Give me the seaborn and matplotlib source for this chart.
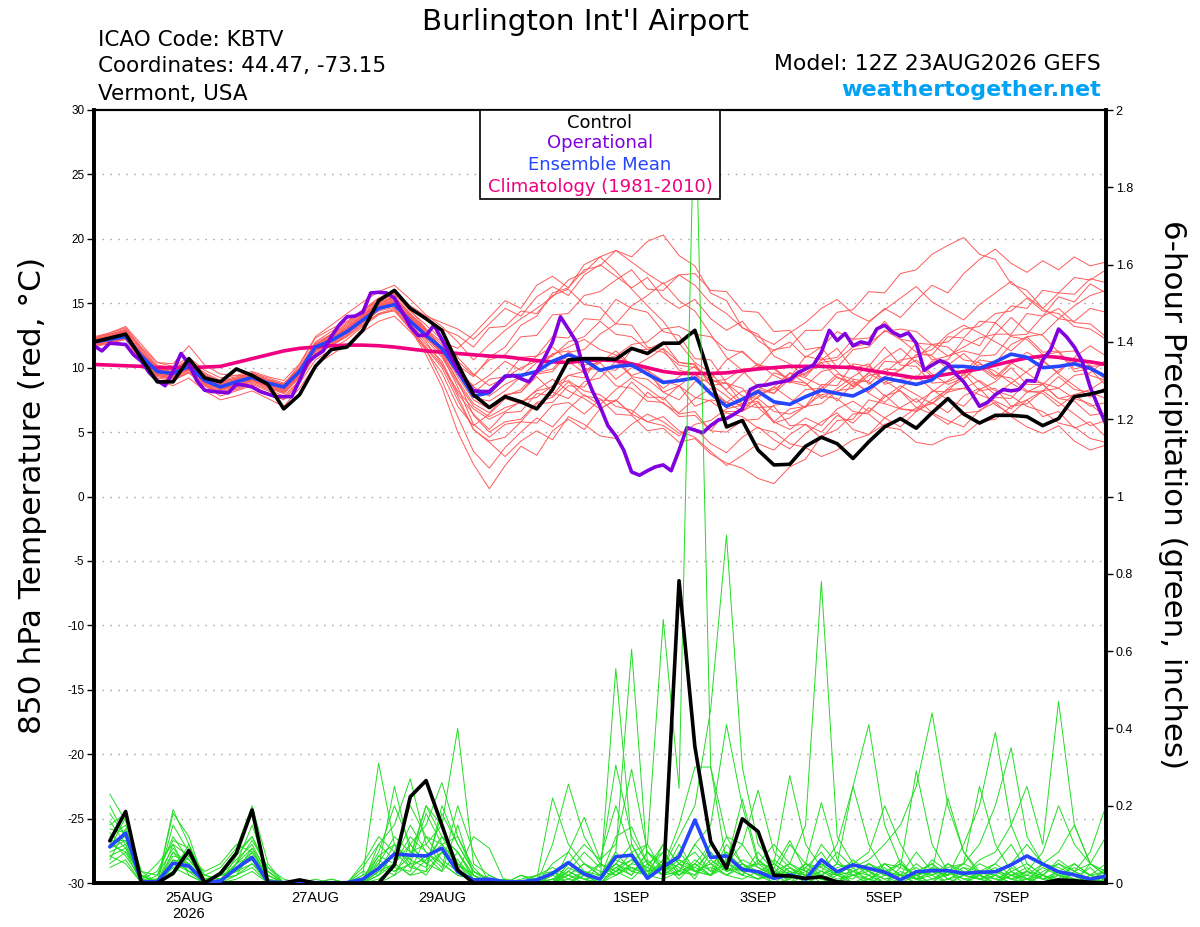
import numpy as np
import pandas as pd
import matplotlib
matplotlib.use("Agg")
import matplotlib.pyplot as plt
from matplotlib.patches import Rectangle
import seaborn as sns

# ---------------- data ----------------
run_start = "2026-08-23 12:00"
n_steps = 65           # 6-hourly, 0..384 h
n_steps_op = 129       # 3-hourly operational run

control_temp = [12.0, 12.3, 12.6, 10.7, 8.9, 8.9, 10.7, 9.2, 8.9, 9.9, 9.4, 8.7, 6.8, 7.9, 10.1, 11.4,
                11.6, 12.9, 15.2, 16.0, 14.6, 13.8, 12.9, 10.3, 7.9, 6.9, 7.75, 7.35, 6.8, 8.3, 10.6, 10.7,
                10.7, 10.65, 11.5, 11.1, 11.9, 11.9, 12.9, 9.1, 5.4, 5.9, 3.6, 2.45, 2.5, 3.9, 4.6, 4.1,
                2.95, 4.25, 5.4, 6.05, 5.3, 6.5, 7.6, 6.4, 5.7, 6.3, 6.3, 6.2, 5.5, 6.05, 7.75, 7.95, 8.25]

mean_temp = [12.0, 12.2, 12.4, 10.9, 9.7, 9.55, 10.1, 9.0, 8.5, 8.9, 9.25, 8.8, 8.5, 9.7, 11.6, 12.1,
             12.8, 13.7, 14.6, 14.9, 13.6, 12.5, 11.5, 9.7, 7.8, 8.05, 9.35, 9.4, 9.7, 10.5, 11.0, 10.6,
             9.8, 10.1, 10.2, 9.5, 8.85, 9.0, 9.2, 8.0, 7.0, 7.55, 8.15, 7.35, 7.15, 7.75, 8.25, 8.0,
             7.8, 8.4, 9.2, 8.95, 8.7, 9.05, 10.1, 10.1, 9.95, 10.45, 11.05, 10.8, 10.0, 10.1, 10.3, 9.95, 9.3]

clim_temp = [10.25, 10.2, 10.15, 10.1, 10.0, 10.0, 10.0, 10.05, 10.1, 10.4, 10.7, 11.0, 11.3, 11.5, 11.6, 11.7,
             11.75, 11.75, 11.7, 11.6, 11.45, 11.3, 11.2, 11.1, 11.0, 10.9, 10.85, 10.7, 10.55, 10.45, 10.4, 10.55,
             10.6, 10.55, 10.3, 10.0, 9.7, 9.55, 9.55, 9.55, 9.6, 9.75, 9.9, 10.0, 10.1, 10.1, 10.1, 10.05,
             10.0, 9.8, 9.6, 9.4, 9.2, 9.3, 9.5, 9.7, 9.9, 10.2, 10.5, 10.75, 10.9, 10.8, 10.6, 10.45, 10.25]

oper_temp = [11.7, 11.3, 11.9, 11.85, 11.8, 11.0, 10.5, 9.6, 9.0, 8.6, 9.7, 11.1, 10.3, 9.0, 8.25, 8.15,
             8.1, 8.05, 8.7, 8.65, 8.5, 8.15, 7.95, 7.75, 7.75, 7.75, 9.0, 10.4, 10.9, 11.3, 12.4, 13.3,
             13.95, 14.0, 14.3, 15.8, 15.85, 15.8, 15.4, 14.3, 13.2, 12.5, 12.5, 13.3, 12.2, 11.0, 9.8, 9.0,
             8.2, 8.15, 8.15, 8.7, 9.3, 9.4, 9.15, 8.9, 9.7, 10.8, 12.0, 13.95, 13.0, 12.0, 9.8, 8.25,
             7.0, 5.5, 4.7, 3.6, 1.9, 1.65, 2.0, 2.3, 2.45, 2.0, 3.6, 5.35, 5.15, 4.95, 5.5, 5.95,
             6.05, 6.4, 6.8, 8.3, 8.6, 8.65, 8.8, 8.9, 9.05, 9.6, 9.9, 10.2, 11.2, 12.9, 12.1, 12.65,
             11.7, 12.0, 11.85, 13.0, 13.3, 12.75, 12.45, 12.7, 11.9, 9.8, 10.2, 10.55, 10.3, 9.5, 8.9, 8.0,
             7.0, 7.3, 7.9, 8.3, 8.2, 8.3, 9.0, 8.95, 10.6, 11.4, 13.0, 12.4, 11.6, 10.5, 8.5, 7.0, 5.6]

# 6-hour precipitation (first value valid at +6 h)
control_precip = [0.109, 0.185, 0.0, 0.0, 0.025, 0.084, 0.0, 0.025, 0.077, 0.189, 0.0, 0.0, 0.008, 0.0, 0.0, 0.0,
                  0.0, 0.0, 0.047, 0.223, 0.265, 0.15, 0.034, 0.0, 0.0, 0.0, 0.0, 0.0, 0.0, 0.0, 0.0, 0.0,
                  0.0, 0.0, 0.0, 0.0, 0.782, 0.353, 0.107, 0.038, 0.166, 0.133, 0.02, 0.018, 0.012, 0.016, 0.003, 0.0,
                  0.0, 0.0, 0.0, 0.0, 0.0, 0.0, 0.0, 0.0, 0.0, 0.0, 0.0, 0.0, 0.008, 0.006, 0.002, 0.0]

mean_precip = [0.094, 0.129, 0.003, 0.003, 0.051, 0.044, 0.003, 0.005, 0.038, 0.066, 0.003, 0.001, 0.002, 0.001, 0.000, 0.001,
               0.010, 0.038, 0.075, 0.072, 0.070, 0.090, 0.029, 0.008, 0.010, 0.003, 0.003, 0.008, 0.025, 0.053, 0.023, 0.010,
               0.068, 0.072, 0.012, 0.042, 0.068, 0.163, 0.066, 0.070, 0.035, 0.029, 0.012, 0.021, 0.010, 0.060, 0.029, 0.047,
               0.038, 0.028, 0.008, 0.029, 0.032, 0.032, 0.025, 0.028, 0.029, 0.047, 0.070, 0.049, 0.029, 0.021, 0.010, 0.018]

ens_temp_members = [
    [12.2, 12.5, 12.9, 11.3, 10.0, 9.8, 10.5, 9.4, 8.8, 9.1, 9.5, 9.0, 8.7, 10.2, 12.3, 13.0, 13.6, 14.5, 15.2, 15.6, 14.8, 14.0, 13.5,
     13.0, 12.2, 13.4, 14.6, 14.0, 15.5, 16.3, 15.6, 17.2, 18.0, 17.1, 16.2, 17.0, 15.4, 14.6, 15.3, 13.8, 12.9, 13.6, 12.1, 11.3, 12.0, 10.8, 11.6, 12.8, 12.2, 13.5, 14.6, 13.9, 15.2, 16.4, 15.8, 17.3, 18.4, 19.2, 18.1, 17.4, 18.3, 17.6, 18.6, 17.9, 18.2],
    [11.8, 12.0, 12.3, 10.6, 9.2, 9.0, 9.6, 8.6, 8.0, 8.4, 8.8, 8.3, 7.8, 9.0, 11.0, 11.8, 12.5, 13.4, 14.2, 14.6, 13.0, 11.0, 8.5,
     5.0, 2.5, 0.6, 2.4, 3.9, 3.2, 5.1, 6.0, 5.2, 6.8, 7.5, 6.4, 8.1, 7.2, 6.5, 7.6, 8.4, 7.3, 6.6, 7.8, 8.5, 7.6, 6.9, 8.2, 9.3, 8.6, 9.6, 8.8, 9.9, 10.6, 9.5, 8.7, 9.2, 10.1, 9.3, 10.4, 9.6, 8.7, 9.8, 10.5, 9.4, 9.0],
    [12.1, 12.4, 12.8, 11.0, 9.9, 9.7, 10.3, 9.1, 8.6, 8.9, 9.3, 8.9, 8.4, 9.8, 11.8, 12.5, 13.1, 14.1, 15.0, 15.5, 14.2, 13.0, 12.0,
     11.5, 12.6, 13.9, 15.2, 14.6, 16.4, 17.1, 16.2, 18.0, 18.6, 17.5, 16.1, 14.8, 13.6, 11.9, 10.4, 9.6, 8.2, 7.1, 6.9, 5.8, 5.2, 6.1, 5.5, 6.8, 7.4, 6.6, 7.7, 8.6, 7.9, 7.2, 8.4, 9.1, 10.3, 9.7, 8.8, 8.1, 8.7, 7.6, 7.9, 7.0, 7.3],
    [11.6, 11.9, 12.2, 10.4, 9.0, 8.6, 9.2, 8.2, 7.5, 7.8, 8.2, 7.6, 7.0, 8.4, 10.2, 11.0, 11.8, 12.8, 13.6, 14.0, 12.8, 11.5, 10.0,
     7.5, 5.2, 4.2, 3.1, 4.3, 5.1, 4.4, 6.2, 5.6, 4.7, 4.5, 5.6, 6.4, 5.8, 4.9, 5.3, 4.1, 3.4, 4.6, 5.4, 4.4, 3.7, 4.9, 5.8, 6.5, 5.2, 4.8, 6.1, 6.9, 7.6, 6.5, 5.9, 5.4, 6.7, 7.3, 6.2, 5.4, 4.9, 5.5, 4.3, 3.6, 4.0],
    [12.3, 12.6, 13.0, 11.5, 10.2, 10.0, 10.6, 9.6, 9.0, 9.3, 9.6, 9.2, 8.8, 9.9, 11.6, 12.2, 13.0, 14.0, 15.0, 15.4, 14.0, 12.6, 11.0,
     9.0, 7.2, 6.5, 7.8, 8.3, 9.6, 9.9, 11.2, 11.4, 12.6, 13.4, 14.8, 15.6, 16.6, 15.2, 14.4, 12.6, 10.8, 9.8, 8.5, 8.0, 9.1, 9.6, 10.4, 9.2, 8.9, 8.1, 9.3, 9.8, 11.0, 11.4, 12.6, 13.3, 12.7, 12.0, 11.3, 12.4, 12.6, 13.8, 13.6, 14.6, 14.3],
    [12.0, 12.3, 12.6, 11.2, 10.0, 9.8, 10.4, 9.3, 8.7, 9.0, 9.4, 9.0, 8.6, 9.8, 11.8, 12.6, 13.4, 14.4, 15.4, 15.8, 14.5, 13.0, 11.5,
     10.2, 9.3, 10.8, 11.6, 13.3, 14.0, 15.8, 16.2, 17.6, 17.9, 19.1, 18.6, 19.8, 20.3, 18.7, 17.9, 15.8, 15.2, 13.1, 12.6, 10.9, 10.3, 9.3, 10.6, 10.8, 12.2, 12.3, 13.6, 12.2, 12.0, 10.6, 10.9, 11.6, 12.3, 12.6, 13.9, 12.8, 12.5, 11.2, 11.3, 10.1, 10.2],
    [11.9, 12.1, 12.5, 10.8, 9.5, 9.3, 9.9, 8.8, 8.3, 8.6, 9.0, 8.5, 8.0, 9.3, 11.2, 11.9, 12.7, 13.6, 14.5, 14.9, 13.8, 12.5, 11.2,
     9.0, 6.3, 5.0, 5.8, 6.0, 7.3, 7.7, 8.9, 7.8, 7.6, 6.4, 6.3, 5.1, 5.3, 4.2, 4.5, 3.3, 2.6, 2.2, 1.4, 1.0, 2.3, 2.9, 4.7, 5.2, 6.4, 6.5, 7.9, 6.8, 6.6, 7.5, 8.3, 8.4, 7.9, 7.4, 6.8, 8.1, 8.2, 9.3, 8.3, 8.1, 7.6],
    [12.2, 12.4, 12.7, 11.1, 9.8, 9.6, 10.2, 9.2, 8.7, 9.0, 9.4, 8.9, 8.6, 9.9, 11.7, 12.3, 13.1, 14.0, 14.9, 15.3, 14.1, 12.8, 11.6,
     9.8, 7.7, 7.4, 8.2, 9.3, 9.7, 11.1, 11.3, 10.2, 10.4, 9.1, 10.0, 10.7, 11.5, 10.4, 10.2, 8.9, 9.1, 9.9, 10.0, 11.4, 11.6, 12.9, 12.9, 14.3, 14.5, 15.9, 15.8, 17.3, 17.6, 18.8, 19.5, 20.1, 18.8, 18.4, 16.5, 16.0, 14.6, 15.8, 15.7, 16.9, 16.6],
    [11.7, 12.0, 12.4, 10.7, 9.4, 9.2, 9.8, 8.8, 8.2, 8.6, 9.0, 8.6, 8.1, 9.4, 11.3, 12.0, 12.8, 13.8, 14.7, 15.0, 13.5, 12.0, 10.3,
     7.8, 5.2, 4.3, 4.6, 5.8, 5.7, 7.1, 7.3, 6.4, 7.5, 7.4, 8.9, 7.7, 7.7, 6.4, 6.6, 5.1, 6.6, 6.6, 7.3, 5.7, 6.1, 7.0, 7.9, 8.1, 9.0, 8.0, 7.3, 8.4, 9.4, 8.3, 7.5, 7.0, 8.3, 8.9, 10.0, 8.7, 8.7, 7.6, 7.4, 6.3, 6.5],
    [12.4, 12.7, 13.1, 11.6, 10.4, 10.3, 11.7, 10.2, 9.5, 9.4, 9.3, 9.0, 8.7, 10.0, 12.0, 12.8, 13.5, 14.5, 15.4, 16.0, 14.6, 13.8, 13.0,
     12.5, 11.6, 13.1, 13.2, 14.4, 14.2, 15.6, 16.1, 14.9, 14.7, 13.4, 13.3, 11.6, 11.4, 9.8, 9.5, 8.1, 7.3, 7.1, 8.3, 8.0, 9.6, 9.2, 8.6, 7.4, 8.8, 9.0, 10.5, 10.4, 11.9, 11.8, 10.9, 11.3, 11.0, 12.6, 12.6, 14.2, 14.0, 15.5, 15.1, 16.5, 15.8],
    [11.9, 12.2, 12.5, 10.9, 9.6, 9.4, 10.0, 9.0, 8.4, 8.8, 9.1, 8.7, 8.3, 9.5, 11.5, 12.2, 12.9, 13.9, 14.8, 15.2, 13.8, 12.4, 11.0,
     8.5, 5.6, 4.6, 5.6, 5.8, 7.2, 7.3, 8.6, 8.5, 9.9, 9.8, 11.4, 11.4, 12.0, 10.4, 10.3, 8.6, 8.8, 7.2, 7.4, 5.8, 6.8, 7.0, 8.7, 8.6, 10.3, 10.1, 11.6, 10.2, 10.1, 8.8, 8.9, 9.4, 10.6, 10.4, 11.8, 12.4, 11.2, 11.3, 9.9, 10.2, 9.0],
    [12.1, 12.3, 12.6, 11.0, 9.7, 9.5, 10.1, 9.1, 8.6, 9.0, 9.3, 8.8, 8.5, 9.7, 11.6, 12.2, 12.9, 13.8, 14.8, 15.1, 13.6, 12.3, 11.2,
     9.5, 8.0, 9.1, 9.3, 10.8, 10.9, 12.4, 12.3, 13.8, 13.7, 15.3, 14.6, 14.3, 12.8, 12.5, 10.7, 10.6, 8.8, 8.4, 6.9, 7.0, 5.5, 5.6, 4.5, 5.9, 6.0, 7.5, 7.2, 6.8, 6.7, 8.2, 8.1, 9.6, 8.2, 8.4, 7.0, 7.5, 6.2, 6.6, 5.3, 5.8, 4.6],
    [11.8, 12.0, 12.3, 10.5, 9.3, 9.1, 9.7, 8.7, 8.1, 8.5, 8.9, 8.4, 8.0, 9.2, 11.0, 11.7, 12.5, 13.5, 14.4, 14.7, 13.2, 11.8, 10.5,
     8.0, 6.4, 5.2, 6.5, 6.6, 8.0, 7.8, 9.4, 9.2, 10.8, 10.6, 9.4, 9.8, 8.1, 8.6, 7.0, 7.5, 7.3, 8.2, 8.2, 9.6, 9.2, 10.9, 10.6, 11.5, 9.9, 10.3, 8.7, 9.1, 9.2, 10.5, 10.6, 12.2, 11.7, 13.5, 12.4, 12.2, 11.0, 11.2, 9.7, 9.9, 8.6],
    [12.0, 12.2, 12.6, 11.2, 10.0, 9.9, 10.5, 9.5, 8.9, 9.2, 9.6, 9.1, 8.7, 10.0, 11.9, 12.6, 13.3, 14.3, 15.2, 15.7, 14.4, 13.3, 12.2,
     10.8, 9.5, 8.6, 9.2, 10.0, 10.5, 11.0, 11.6, 12.2, 11.4, 11.0, 10.2, 9.8, 9.0, 8.6, 7.7, 7.4, 6.5, 6.2, 5.3, 5.0, 4.1, 3.8, 3.1, 3.6, 4.4, 4.8, 5.6, 6.0, 6.9, 7.2, 8.1, 8.4, 9.0, 8.2, 7.8, 7.0, 6.6, 5.7, 5.4, 4.5, 4.2],
    [12.2, 12.5, 12.8, 11.0, 9.6, 9.5, 10.2, 9.2, 8.6, 9.0, 9.2, 8.8, 8.4, 9.6, 11.4, 12.0, 12.8, 13.8, 14.6, 15.0, 13.8, 12.6, 11.6,
     10.5, 9.4, 10.6, 11.0, 12.4, 12.5, 14.1, 14.2, 15.6, 15.9, 16.8, 17.6, 16.1, 16.0, 17.2, 17.3, 16.0, 15.9, 14.4, 14.3, 12.8, 12.9, 11.4, 11.6, 10.0, 10.2, 8.7, 9.9, 9.8, 11.0, 11.0, 12.4, 12.3, 13.6, 13.5, 14.8, 14.6, 16.0, 15.8, 17.0, 16.8, 17.6],
    [11.7, 11.9, 12.2, 10.6, 9.4, 9.1, 9.6, 8.6, 7.8, 8.2, 8.6, 8.0, 7.5, 8.8, 10.6, 11.4, 12.2, 13.2, 14.1, 14.5, 13.0, 11.6, 10.2,
     8.2, 6.8, 6.0, 6.6, 7.4, 7.7, 8.6, 9.0, 8.2, 7.9, 7.0, 6.7, 5.8, 5.5, 4.7, 5.6, 5.9, 6.8, 7.1, 8.0, 8.3, 9.2, 9.5, 10.4, 10.6, 11.6, 11.9, 12.8, 13.0, 12.8, 11.8, 11.6, 10.6, 10.4, 9.4, 9.2, 8.2, 8.0, 7.0, 7.9, 8.3, 9.1],
    [12.3, 12.6, 12.9, 11.4, 10.1, 9.9, 10.5, 9.4, 8.9, 9.2, 9.5, 9.0, 8.7, 9.9, 11.8, 12.5, 13.2, 14.2, 15.1, 15.5, 14.2, 12.9, 11.8,
     10.0, 8.5, 7.8, 8.7, 9.3, 10.4, 10.9, 12.0, 12.4, 13.6, 12.6, 12.4, 11.4, 11.2, 10.2, 10.0, 9.0, 8.8, 7.8, 7.6, 6.6, 6.4, 7.0, 7.2, 8.2, 8.4, 9.4, 9.6, 10.6, 10.8, 11.8, 12.0, 13.0, 13.2, 14.2, 14.4, 15.4, 14.4, 14.2, 13.2, 13.0, 12.2],
    [11.9, 12.1, 12.4, 10.7, 9.5, 9.3, 9.9, 8.9, 8.3, 8.7, 9.1, 8.6, 8.2, 9.4, 11.3, 12.0, 12.8, 13.8, 14.7, 15.1, 13.7, 12.2, 10.8,
     8.8, 7.0, 6.2, 6.9, 7.3, 8.2, 8.5, 9.4, 9.7, 10.6, 10.9, 11.8, 12.0, 13.0, 13.2, 12.6, 12.4, 11.4, 11.2, 10.2, 10.0, 9.0, 8.8, 7.8, 7.6, 6.6, 6.4, 5.4, 5.2, 4.2, 4.0, 4.6, 4.8, 5.8, 6.0, 7.0, 7.2, 8.2, 8.4, 9.4, 9.6, 10.6],
    [12.0, 12.4, 12.8, 11.1, 9.9, 9.6, 10.3, 9.2, 8.5, 8.8, 9.2, 8.7, 8.3, 9.6, 11.5, 12.3, 13.0, 14.0, 14.9, 15.2, 13.9, 12.7, 11.4,
     9.3, 7.5, 6.8, 7.9, 8.1, 9.3, 8.1, 7.6, 8.9, 9.2, 10.5, 9.3, 9.1, 8.1, 7.5, 8.9, 9.1, 10.6, 11.3, 10.1, 9.9, 8.9, 8.6, 9.7, 10.0, 11.4, 11.6, 12.9, 12.2, 11.2, 10.9, 9.9, 9.6, 10.9, 11.0, 12.5, 12.6, 14.0, 14.6, 13.5, 13.4, 12.4],
    [12.1, 12.3, 12.7, 11.0, 9.8, 9.7, 10.3, 9.3, 8.8, 9.1, 9.4, 8.9, 8.5, 9.8, 11.7, 12.4, 13.0, 14.1, 15.0, 15.4, 14.0, 12.8, 11.5,
     9.6, 7.8, 7.0, 7.9, 8.1, 9.5, 9.7, 11.1, 9.9, 9.9, 8.6, 8.4, 7.4, 7.3, 6.2, 6.3, 5.1, 5.0, 5.9, 6.0, 7.1, 7.2, 8.3, 8.4, 9.5, 9.1, 8.9, 7.8, 8.2, 6.9, 6.4, 5.6, 6.5, 6.6, 7.7, 7.6, 9.0, 8.8, 8.4, 7.6, 7.2, 6.1],
    [12.3, 12.7, 13.2, 11.8, 10.4, 10.1, 10.8, 9.8, 9.2, 9.4, 9.7, 9.3, 9.0, 10.3, 12.4, 13.3, 14.2, 15.1, 15.9, 16.4, 15.3, 14.1, 13.2,
     12.0, 10.6, 11.8, 12.9, 13.8, 14.6, 15.5, 16.8, 17.4, 18.6, 19.1, 18.2, 17.3, 16.5, 17.2, 16.4, 15.0, 14.2, 13.1, 12.4, 11.8, 12.7, 13.5, 14.6, 15.3, 14.2, 13.6, 14.5, 15.4, 16.3, 15.1, 14.4, 13.7, 14.9, 15.8, 16.7, 15.5, 14.6, 13.8, 14.8, 15.6, 16.0],
    [11.8, 12.1, 12.5, 10.8, 9.5, 9.2, 9.9, 8.7, 8.0, 8.3, 8.7, 8.2, 7.6, 9.0, 11.0, 11.7, 12.4, 13.3, 14.2, 14.4, 13.0, 11.3, 9.6,
     7.0, 5.5, 6.4, 7.6, 7.2, 8.3, 9.1, 8.2, 7.6, 6.8, 7.5, 6.4, 5.8, 6.2, 5.1, 4.6, 3.5, 2.4, 3.2, 4.1, 3.6, 4.8, 5.6, 5.0, 6.3, 5.7, 6.9, 6.1, 5.4, 6.6, 7.3, 6.5, 7.8, 8.4, 7.1, 6.4, 7.5, 8.2, 7.3, 6.4, 5.5, 5.9],
    [12.0, 12.2, 12.5, 10.8, 9.6, 9.4, 10.0, 8.9, 8.4, 8.7, 9.1, 8.6, 8.2, 9.5, 11.4, 12.1, 12.9, 13.9, 14.8, 15.2, 13.9, 12.5, 11.3,
     9.7, 8.6, 9.4, 10.5, 9.8, 10.9, 11.6, 10.5, 9.6, 10.4, 11.3, 10.2, 9.5, 8.4, 9.3, 10.1, 9.2, 8.3, 9.5, 10.3, 9.4, 8.8, 9.9, 10.8, 9.7, 8.5, 9.6, 10.7, 11.5, 10.4, 9.3, 10.2, 11.1, 10.0, 9.1, 10.3, 11.2, 10.5, 9.6, 10.8, 11.7, 10.9],
    [11.9, 12.2, 12.6, 11.0, 9.7, 9.4, 10.0, 9.0, 8.3, 8.6, 9.0, 8.5, 8.1, 9.3, 11.1, 11.8, 12.6, 13.6, 14.6, 15.0, 13.3, 11.4, 9.0,
     6.2, 3.5, 2.2, 3.8, 5.0, 6.1, 5.4, 6.8, 7.9, 7.1, 8.3, 9.2, 8.4, 7.5, 8.6, 9.5, 8.7, 7.8, 6.9, 7.7, 8.5, 9.6, 8.8, 7.6, 8.4, 9.3, 10.1, 9.0, 8.2, 7.3, 8.1, 9.0, 9.8, 8.9, 7.9, 8.8, 9.7, 10.6, 9.5, 8.6, 7.7, 8.5],
]

ens_precip_members = [
    [.12, .15, .01, .00, .08, .05, .00, .02, .06, .10, .02, .00, .00, .00, .00, .00, .02, .31, .10, .05, .02, .08, .03, .00, .00, .00, .00, .00, .02, .05, .02, .00, .555, .10, .02, .05, .01, .05, .02, .10, .05, .02, .00, .03, .00, .05, .02, .00, .01, .00, .02, .00, .00, .03, .01, .00, .02, .05, .01, .00, .02, .00, .01, .03],
    [.08, .10, .00, .02, .12, .06, .01, .00, .04, .08, .01, .00, .00, .01, .00, .00, .00, .05, .12, .08, .10, .15, .40, .05, .02, .00, .00, .01, .00, .03, .01, .02, .08, .605, .05, .02, .10, .03, .05, .02, .01, .03, .00, .01, .05, .02, .00, .04, .00, .02, .05, .01, .00, .00, .02, .01, .00, .03, .05, .02, .00, .01, .04, .00],
    [.15, .18, .02, .00, .05, .04, .00, .01, .03, .07, .00, .00, .00, .00, .00, .00, .04, .10, .06, .15, .08, .05, .02, .01, .00, .00, .02, .00, .00, .02, .05, .03, .02, .05, .10, .682, .245, 2.10, .30, .05, .03, .01, .02, .00, .04, .01, .00, .02, .03, .00, .01, .05, .02, .00, .00, .02, .01, .00, .00, .03, .05, .02, .00, .01],
    [.05, .08, .00, .01, .03, .10, .00, .03, .08, .12, .04, .00, .00, .00, .01, .00, .00, .02, .08, .20, .12, .10, .05, .02, .00, .01, .00, .00, .05, .08, .03, .01, .05, .02, .08, .04, .12, .20, .45, .90, .30, .10, .05, .02, .01, .00, .03, .02, .00, .05, .02, .00, .01, .03, .00, .02, .04, .01, .00, .02, .06, .03, .01, .00],
    [.10, .12, .03, .00, .15, .08, .02, .01, .05, .15, .03, .00, .00, .00, .00, .00, .01, .08, .20, .10, .05, .12, .08, .01, .01, .00, .00, .02, .03, .00, .02, .01, .03, .04, .02, .01, .03, .05, .02, .08, .04, .05, .10, .05, .15, .78, .12, .05, .02, .00, .04, .02, .00, .05, .02, .01, .00, .02, .03, .01, .00, .00, .02, .05],
    [.18, .12, .02, .00, .06, .03, .00, .00, .02, .05, .00, .00, .00, .00, .00, .00, .00, .03, .05, .10, .15, .26, .12, .03, .00, .00, .01, .02, .00, .03, .08, .04, .305, .12, .05, .08, .03, .10, .15, .41, .20, .05, .02, .03, .00, .02, .05, .03, .01, .04, .00, .02, .05, .01, .00, .03, .02, .00, .01, .04, .02, .00, .05, .02],
    [.07, .05, .00, .01, .02, .07, .03, .05, .10, .08, .02, .00, .01, .00, .00, .00, .00, .06, .03, .05, .18, .10, .05, .00, .02, .00, .00, .01, .00, .05, .10, .06, .10, .294, .08, .05, .02, .06, .03, .05, .10, .04, .02, .05, .03, .00, .02, .05, .03, .01, .02, .00, .04, .03, .02, .06, .08, .15, .25, .10, .47, .15, .05, .02],
    [.13, .09, .01, .05, .10, .02, .00, .00, .04, .06, .01, .00, .00, .00, .00, .00, .03, .02, .08, .06, .04, .18, .10, .03, .01, .00, .00, .00, .10, .256, .12, .05, .03, .08, .02, .05, .03, .02, .10, .04, .02, .06, .03, .01, .05, .03, .08, .04, .06, .10, .15, .25, .44, .20, .08, .03, .01, .03, .00, .02, .01, .05, .02, .00],
    [.06, .14, .00, .00, .04, .05, .01, .02, .03, .09, .01, .00, .00, .00, .00, .00, .00, .00, .05, .12, .08, .04, .20, .08, .00, .00, .02, .01, .22, .10, .05, .02, .05, .03, .06, .02, .05, .01, .08, .03, .05, .02, .04, .00, .02, .01, .00, .03, .05, .02, .06, .01, .03, .02, .10, .20, .39, .15, .05, .02, .00, .03, .01, .00],
    [.09, .11, .02, .00, .18, .12, .00, .01, .02, .04, .00, .00, .00, .00, .00, .00, .00, .10, .15, .27, .10, .05, .02, .01, .00, .00, .00, .00, .03, .01, .00, .05, .02, .05, .04, .10, .05, .03, .02, .06, .02, .08, .03, .02, .05, .04, .10, .25, .41, .15, .05, .02, .03, .00, .02, .01, .03, .02, .00, .05, .03, .01, .00, .04],
    [.11, .07, .01, .00, .07, .06, .01, .00, .07, .12, .03, .00, .00, .00, .00, .00, .01, .04, .25, .08, .05, .03, .15, .02, .00, .01, .00, .00, .02, .00, .03, .01, .05, .10, .03, .04, .15, .30, .30, .12, .05, .02, .01, .04, .02, .01, .03, .00, .02, .00, .03, .01, .02, .04, .05, .10, .20, .35, .12, .05, .02, .01, .00, .02],
    [.23, .16, .03, .02, .09, .04, .00, .00, .05, .07, .02, .00, .00, .00, .00, .00, .00, .01, .04, .03, .12, .06, .03, .00, .00, .00, .00, .00, .01, .00, .02, .05, .03, .01, .05, .02, .08, .03, .05, .02, .04, .03, .05, .278, .10, .04, .02, .01, .05, .03, .01, .02, .00, .01, .03, .02, .00, .04, .02, .01, .03, .00, .02, .01],
    [.04, .06, .00, .00, .05, .03, .02, .01, .05, .11, .04, .01, .00, .00, .00, .00, .02, .05, .03, .07, .20, .12, .05, .02, .00, .01, .00, .00, .00, .02, .05, .02, .06, .04, .02, .10, .05, .08, .03, .12, .10, .24, .08, .04, .01, .02, .05, .03, .02, .05, .04, .29, .10, .03, .01, .02, .05, .02, .01, .00, .03, .05, .02, .01],
    [.14, .13, .01, .03, .11, .09, .02, .04, .09, .20, .05, .00, .00, .00, .00, .00, .00, .04, .02, .05, .06, .10, .12, .04, .00, .00, .00, .00, .00, .04, .02, .00, .04, .02, .08, .03, .02, .05, .10, .05, .217, .06, .02, .01, .03, .05, .02, .06, .03, .01, .02, .04, .01, .02, .05, .03, .02, .01, .03, .02, .05, .03, .08, .20],
    [.10, .08, .02, .00, .19, .10, .01, .02, .04, .06, .01, .00, .00, .00, .00, .00, .01, .07, .05, .02, .03, .08, .06, .01, .00, .00, .00, .00, .01, .02, .00, .01, .12, .145, .05, .02, .03, .10, .05, .08, .03, .01, .05, .02, .04, .08, .02, .03, .05, .03, .02, .08, .03, .22, .08, .02, .00, .02, .04, .01, .03, .02, .00, .01],
    [.16, .10, .00, .01, .04, .02, .00, .00, .01, .03, .00, .00, .00, .00, .00, .00, .05, .12, .08, .04, .07, .03, .08, .02, .00, .00, .00, .01, .00, .08, .17, .06, .20, .08, .10, .03, .06, .04, .02, .04, .02, .01, .03, .05, .02, .03, .01, .02, .04, .02, .01, .03, .05, .02, .04, .01, .03, .05, .10, .05, .08, .15, .05, .03],
    [.07, .09, .01, .00, .10, .07, .00, .02, .03, .05, .01, .00, .00, .00, .01, .00, .00, .03, .10, .06, .20, .15, .05, .01, .00, .00, .00, .00, .00, .01, .03, .02, .04, .06, .03, .08, .02, .04, .08, .03, .06, .04, .02, .10, .05, .208, .06, .02, .01, .03, .05, .02, .04, .01, .02, .05, .03, .01, .02, .05, .04, .02, .01, .02],
    [.20, .12, .02, .00, .06, .05, .00, .01, .02, .08, .02, .00, .00, .00, .00, .00, .00, .00, .02, .10, .05, .08, .03, .12, .09, .00, .00, .00, .01, .03, .01, .00, .02, .04, .03, .05, .06, .03, .02, .05, .03, .05, .04, .11, .03, .02, .04, .05, .08, .20, .10, .03, .02, .05, .03, .01, .02, .00, .03, .01, .02, .04, .02, .03],
    [.09, .17, .00, .00, .08, .03, .01, .00, .05, .09, .03, .00, .00, .00, .00, .00, .00, .07, .10, .04, .03, .20, .10, .03, .01, .00, .00, .00, .00, .05, .03, .01, .08, .03, .02, .06, .04, .02, .06, .03, .04, .02, .06, .03, .02, .10, .05, .25, .10, .03, .02, .01, .06, .03, .05, .25, .10, .03, .01, .02, .00, .03, .05, .02],
    [.11, .11, .01, .01, .05, .08, .00, .01, .04, .06, .01, .00, .00, .00, .00, .00, .00, .02, .05, .02, .06, .12, .08, .02, .00, .00, .00, .02, .04, .02, .01, .00, .03, .06, .04, .02, .05, .03, .04, .02, .05, .03, .02, .04, .01, .03, .02, .05, .03, .05, .02, .01, .03, .02, .04, .03, .05, .10, .03, .08, .20, .10, .05, .12],
]

tick_dates = ["2026-08-25", "2026-08-27", "2026-08-29", "2026-09-01", "2026-09-03", "2026-09-05", "2026-09-07"]
tick_labels = ["25AUG\n2026", "27AUG", "29AUG", "1SEP", "3SEP", "5SEP", "7SEP"]
temp_ticks = list(range(-30, 31, 5))
precip_ticks = [0, 0.2, 0.4, 0.6, 0.8, 1.0, 1.2, 1.4, 1.6, 1.8, 2.0]

legend_entries = ["Control", "Operational", "Ensemble Mean", "Climatology (1981-2010)"]

# ---------------- colours ----------------
C_CONTROL = "#000000"
C_OPER = "#8000e0"
C_MEAN = "#2446ff"
C_CLIM = "#f0007e"
C_RED = "#ff5a5a"
C_GREEN = "#22dd22"
legend_colors = [C_CONTROL, C_OPER, C_MEAN, C_CLIM]

# ---------------- build frames ----------------
times = pd.date_range(run_start, periods=n_steps, freq="6h")
times_op = pd.date_range(run_start, periods=n_steps_op, freq="3h")

rows_t = []
for k, m in enumerate(ens_temp_members):
    for t, v in zip(times, m):
        rows_t.append((k, t, v))
df_mt = pd.DataFrame(rows_t, columns=["member", "time", "temp"])

rows_p = []
for k, m in enumerate(ens_precip_members):
    for t, v in zip(times[1:], m):
        rows_p.append((k, t, v))
df_mp = pd.DataFrame(rows_p, columns=["member", "time", "precip"])

# ---------------- figure ----------------
sns.set_style("white")
plt.rcParams["font.family"] = ["Liberation Sans", "DejaVu Sans"]
plt.rcParams["axes.unicode_minus"] = False
plt.rcParams["text.color"] = "black"
plt.rcParams["xtick.color"] = "black"
plt.rcParams["ytick.color"] = "black"

HEAD = ["DejaVu Sans"]

W, H = 1200, 927
fig = plt.figure(figsize=(W / 100, H / 100), dpi=100)
fig.patch.set_facecolor("white")

def fx(x):
    return x / W

def fy(y):
    return 1 - y / H

L, R, T, B = 94, 1106, 110, 883
ax = fig.add_axes([fx(L), fy(B), (R - L) / W, (B - T) / H])
ax2 = ax.twinx()

# temperature
sns.lineplot(data=df_mt, x="time", y="temp", units="member", estimator=None,
             color=C_RED, linewidth=0.7, ax=ax, legend=False, zorder=2)
sns.lineplot(x=times, y=clim_temp, color=C_CLIM, linewidth=2.6, ax=ax, zorder=3)
sns.lineplot(x=times, y=mean_temp, color=C_MEAN, linewidth=2.6, ax=ax, zorder=4)
sns.lineplot(x=times_op, y=oper_temp, color=C_OPER, linewidth=2.6, ax=ax, zorder=5)
sns.lineplot(x=times, y=control_temp, color=C_CONTROL, linewidth=2.6, ax=ax, zorder=6)

# precipitation
sns.lineplot(data=df_mp, x="time", y="precip", units="member", estimator=None,
             color=C_GREEN, linewidth=0.7, ax=ax2, legend=False, zorder=2)
sns.lineplot(x=times[1:], y=mean_precip, color=C_MEAN, linewidth=2.6, ax=ax2, zorder=4)
sns.lineplot(x=times[1:], y=control_precip, color=C_CONTROL, linewidth=2.6, ax=ax2, zorder=5)

ax.set_xlim(times[0], times[-1])
ax.set_ylim(-30, 30)
ax2.set_ylim(0, 2)

ax.set_yticks(temp_ticks)
ax.set_yticklabels([str(v) for v in temp_ticks])
ax2.set_yticks(precip_ticks)
ax2.set_yticklabels([f"{v:g}" for v in precip_ticks])
ax.set_xticks(pd.to_datetime(tick_dates))
ax.set_xticklabels(tick_labels, linespacing=1.15)

for a in (ax, ax2):
    a.set_xlabel("")
    a.set_ylabel("")
    for s in a.spines.values():
        s.set_color("black")
    a.spines["left"].set_linewidth(2.6)
    a.spines["bottom"].set_linewidth(2.6)
    a.spines["right"].set_linewidth(2.6)
    a.spines["top"].set_linewidth(1.5)

ax.tick_params(axis="x", length=0, pad=6, labelsize=10.5, colors="black")
ax.tick_params(axis="y", left=True, length=5, width=1, pad=2, labelsize=8.5, direction="out", colors="black")
ax2.tick_params(axis="y", right=True, length=5, width=1, pad=2, labelsize=9, direction="out", colors="black")

ax.grid(False)
ax2.grid(False)
for v in temp_ticks[1:-1]:
    ax.axhline(v, color="#aaaaaa", linewidth=1.0, linestyle=(0, (1.2, 4.5)), zorder=1)

# ---------------- legend box ----------------
box = Rectangle((fx(480), fy(199)), 240 / W, 89 / H, transform=fig.transFigure,
                facecolor="white", edgecolor="black", linewidth=1.2, zorder=10)
fig.patches.append(box)
for txt, col, yb in zip(legend_entries, legend_colors, [127.5, 148.5, 170.0, 191.5]):
    fig.text(fx(600), fy(yb), txt, color=col, ha="center", va="baseline", fontsize=13.0,
             family=HEAD, zorder=11)

# ---------------- header texts ----------------
fig.text(fx(585), fy(29.5), "Burlington Int'l Airport", ha="center", va="baseline", fontsize=21.2,
         family=HEAD, color="black")
fig.text(fx(98), fy(46), "ICAO Code: KBTV", ha="left", va="baseline", fontsize=15.5, family=HEAD)
fig.text(fx(98), fy(72.5), "Coordinates: 44.47, -73.15", ha="left", va="baseline", fontsize=15.5, family=HEAD)
fig.text(fx(98), fy(99.5), "Vermont, USA", ha="left", va="baseline", fontsize=15.5, family=HEAD)
fig.text(fx(1101), fy(70.5), "Model: 12Z 23AUG2026 GEFS", ha="right", va="baseline", fontsize=15.8, family=HEAD)
fig.text(fx(1101), fy(96.5), "weathertogether.net", ha="right", va="baseline", fontsize=16,
         fontweight="bold", color="#00a2f5", family=HEAD)

fig.text(fx(33), fy(495), "850 hPa Temperature (red, \u00b0C)", rotation=90, ha="center", va="center",
         fontsize=22.5, family=HEAD)
fig.text(fx(1172), fy(495), "6-hour Precipitation (green, inches)", rotation=270, ha="center", va="center",
         fontsize=22.3, family=HEAD)

fig.savefig("out.png", dpi=100, facecolor="white")
